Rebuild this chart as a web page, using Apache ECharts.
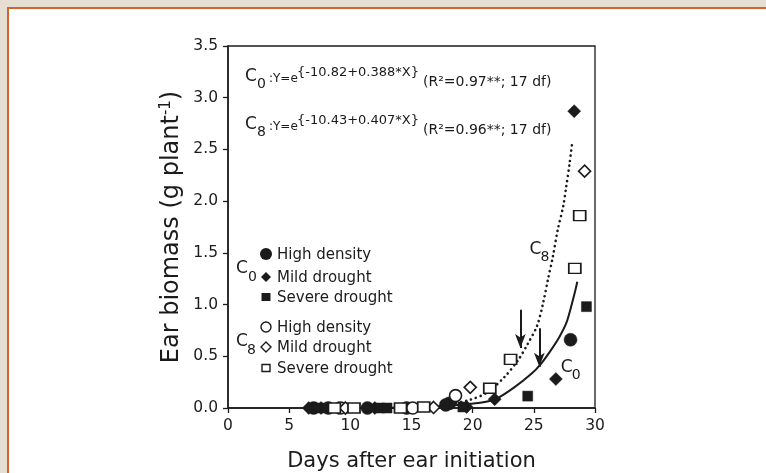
<!DOCTYPE html>
<html>
<head>
<meta charset="utf-8">
<script src="https://cdn.jsdelivr.net/npm/echarts@6/dist/echarts.min.js"></script>
<style>
  html, body { margin: 0; padding: 0; width: 766px; height: 473px; overflow: hidden; background: #e6ded2; }
  #panel { position: absolute; left: 7px; top: 7px; right: 0; bottom: 0; background: #fff;
           border-left: 2px solid #d2632f; border-top: 2px solid #d2632f; }
  #chart { position: absolute; left: 0; top: 0; width: 766px; height: 473px; }
</style>
</head>
<body>
<div id="panel"></div>
<div id="chart"></div>
<script>
// Axis ticks
const xTicks = [0, 5, 10, 15, 20, 25, 30];
const yTicks = [0.0, 0.5, 1.0, 1.5, 2.0, 2.5, 3.0, 3.5];

// Observations: [days after ear initiation, ear biomass g/plant]
const c0HighDensity   = [[7.0, 0], [8.2, 0], [11.4, 0], [14.6, 0], [17.8, 0.03], [18.1, 0.045], [28.0, 0.66]];
const c0MildDrought   = [[6.6, 0], [7.6, 0], [9.0, 0], [12.0, 0], [19.5, 0.01], [21.8, 0.085], [26.8, 0.28], [28.3, 2.87]];
const c0SevereDrought = [[7.3, 0], [8.0, 0], [12.4, 0], [13.0, 0], [19.2, 0.01], [24.5, 0.115], [29.3, 0.98]];
const c8HighDensity   = [[9.2, 0], [15.1, 0], [18.6, 0.12]];
const c8MildDrought   = [[9.6, 0], [16.8, 0.005], [19.8, 0.2], [29.15, 2.29]];
const c8SevereDrought = [[8.7, 0], [10.3, 0], [14.1, 0], [16.0, 0.01], [21.4, 0.19], [23.1, 0.47], [28.35, 1.35], [28.75, 1.86]];

// Fitted growth curves
const c0CurveX = [6.5, 10, 14, 17, 19.8, 21.75, 23.4, 24.8, 25.6, 26.4, 27.1, 27.65, 28.05, 28.4, 28.55];
const c0CurveY = [0, 0.001, 0.005, 0.015, 0.04, 0.08, 0.2, 0.33, 0.43, 0.56, 0.69, 0.82, 0.98, 1.14, 1.22];
const c8CurveX = [14.5, 16.5, 18.3, 19.8, 21.2, 22.6, 23.7, 24.5, 25.25, 25.75, 26.15, 26.55, 26.95, 27.4, 27.65, 27.93, 28.15];
const c8CurveY = [0.003, 0.012, 0.04, 0.08, 0.15, 0.3, 0.46, 0.62, 0.79, 1.01, 1.24, 1.46, 1.72, 1.95, 2.14, 2.37, 2.58];

// Arrows marking the onset of rapid ear growth
const arrowX   = [23.9, 25.45];
const arrowTop = [0.95, 0.77];
const arrowTip = [0.58, 0.40];

const INK = '#1b1b1b';
const FONT = '"DejaVu Sans", Verdana, sans-serif';

const zip = (xs, ys) => xs.map((x, i) => [x, ys[i]]);

const chart = echarts.init(document.getElementById('chart'), null, { renderer: 'canvas' });

function scatter(name, data, symbol, size, filled) {
  return {
    name, type: 'scatter', data, symbol, symbolSize: size, z: 5,
    itemStyle: filled
      ? { color: INK, borderColor: INK, borderWidth: 0.5, opacity: 1 }
      : { color: '#fff', borderColor: INK, borderWidth: 1.6, opacity: 1 }
  };
}

const option = {
  animation: false,
  backgroundColor: 'transparent',
  textStyle: { fontFamily: FONT, color: INK },
  grid: {
    left: 228, right: 171, top: 46, bottom: 65, containLabel: false, outerBoundsMode: 'none',
    show: true, borderColor: INK, borderWidth: 1.3
  },
  xAxis: {
    type: 'value', min: xTicks[0], max: xTicks[xTicks.length - 1], interval: 5,
    splitLine: { show: false },
    axisLine: { show: true, onZero: false, lineStyle: { color: INK, width: 1.5 } },
    axisTick: { show: true, length: 5, lineStyle: { color: INK, width: 1.3 } },
    axisLabel: { fontSize: 15.5, color: INK, margin: 10, fontFamily: FONT },
    name: 'Days after ear initiation', nameLocation: 'middle', nameGap: 43,
    nameTextStyle: { fontSize: 21, color: INK, fontFamily: FONT }
  },
  yAxis: {
    type: 'value', min: yTicks[0], max: yTicks[yTicks.length - 1], interval: 0.5,
    splitLine: { show: false },
    axisLine: { show: true, onZero: false, lineStyle: { color: INK, width: 1.5 } },
    axisTick: { show: true, length: 5, lineStyle: { color: INK, width: 1.3 } },
    axisLabel: { fontSize: 15.5, color: INK, margin: 10, fontFamily: FONT, formatter: v => v.toFixed(1) },
    name: 'Ear biomass (g plant{sup|-1})', nameLocation: 'middle', nameGap: 44,
    nameTextStyle: {
      fontSize: 24, color: INK, fontFamily: FONT,
      rich: { sup: { fontSize: 15, verticalAlign: 'top', padding: [0, 0, 10, 0], fontFamily: FONT, color: INK } }
    }
  },
  series: [
    {
      name: 'C0 fit', type: 'line', data: zip(c0CurveX, c0CurveY), smooth: 0.3, showSymbol: false, z: 3,
      lineStyle: { color: INK, width: 2 }
    },
    {
      name: 'C8 fit', type: 'line', data: zip(c8CurveX, c8CurveY), smooth: 0.3, showSymbol: false, z: 3,
      lineStyle: { color: INK, width: 2.6, type: [0.1, 5], cap: 'round' }
    },
    scatter('C0 High density', c0HighDensity, 'circle', 13, true),
    scatter('C0 Mild drought', c0MildDrought, 'diamond', 13, true),
    scatter('C0 Severe drought', c0SevereDrought, 'rect', 10, true),
    scatter('C8 High density', c8HighDensity, 'circle', 12, false),
    scatter('C8 Mild drought', c8MildDrought, 'diamond', 12, false),
    scatter('C8 Severe drought', c8SevereDrought, 'rect', [12, 10], false),
    {
      name: 'arrows', type: 'scatter', data: [], silent: true,
      markLine: {
        silent: true, symbol: ['none', 'arrow'], symbolSize: [8, 14],
        lineStyle: { color: INK, width: 2, type: 'solid' }, label: { show: false },
        data: arrowX.map((x, i) => [{ coord: [x, arrowTop[i]] }, { coord: [x, arrowTip[i]] }])
      }
    }
  ]
};
chart.setOption(option);

// ---- text annotations ----
function txt(x, y, text, size) {
  return {
    type: 'text', x, y, silent: true, z: 10,
    style: { text, fill: INK, font: `${size}px ${FONT}`, verticalAlign: 'middle', align: 'left' }
  };
}

// Regression equations
function equation(y, sub, eq, stats) {
  return [
    txt(245, y, 'C', 17),
    txt(257, y + 7, sub, 14),
    txt(269, y + 2, ':Y=e', 12),
    txt(297, y - 4, eq, 13),
    txt(423, y + 5, stats, 14)
  ];
}

const graphics = [].concat(
  equation(77, '0', '{-10.82+0.388*X}', '(R²=0.97**; 17 df)'),
  equation(125, '8', '{-10.43+0.407*X}', '(R²=0.96**; 17 df)')
);

// Key of treatments
const keyRows = [
  { y: 254, label: 'High density', shape: 'circle', filled: true },
  { y: 277, label: 'Mild drought', shape: 'diamond', filled: true },
  { y: 297, label: 'Severe drought', shape: 'rect', filled: true },
  { y: 327, label: 'High density', shape: 'circle', filled: false },
  { y: 347, label: 'Mild drought', shape: 'diamond', filled: false },
  { y: 368, label: 'Severe drought', shape: 'rect', filled: false }
];
keyRows.forEach(r => {
  const style = r.filled ? { fill: INK } : { fill: '#fff', stroke: INK, lineWidth: 1.4 };
  const cx = 266;
  if (r.shape === 'circle') {
    graphics.push({ type: 'circle', shape: { cx, cy: r.y, r: r.filled ? 6 : 5 }, style, z: 10 });
  } else if (r.shape === 'diamond') {
    const h = 5;
    graphics.push({ type: 'polygon', shape: { points: [[cx, r.y - h], [cx + h, r.y], [cx, r.y + h], [cx - h, r.y]] }, style, z: 10 });
  } else {
    const w = r.filled ? 9 : 8, hh = r.filled ? 8 : 7;
    graphics.push({ type: 'rect', shape: { x: cx - w / 2, y: r.y - hh / 2, width: w, height: hh }, style, z: 10 });
  }
  graphics.push(txt(277, r.y + 1, r.label, 15));
});
graphics.push(txt(236, 269, 'C', 17), txt(248, 277, '0', 14));
graphics.push(txt(236, 342, 'C', 17), txt(247, 350, '8', 14));

// Curve labels, anchored in data space
const curveLabels = [
  { at: [24.65, 1.53], sub: '8' },
  { at: [27.2, 0.39], sub: '0' }
];
curveLabels.forEach(c => {
  const p = chart.convertToPixel({ gridIndex: 0 }, c.at);
  graphics.push(txt(p[0], p[1], 'C', 17), txt(p[0] + 11, p[1] + 8, c.sub, 14));
});

chart.setOption({ graphic: graphics });
</script>
</body>
</html>
